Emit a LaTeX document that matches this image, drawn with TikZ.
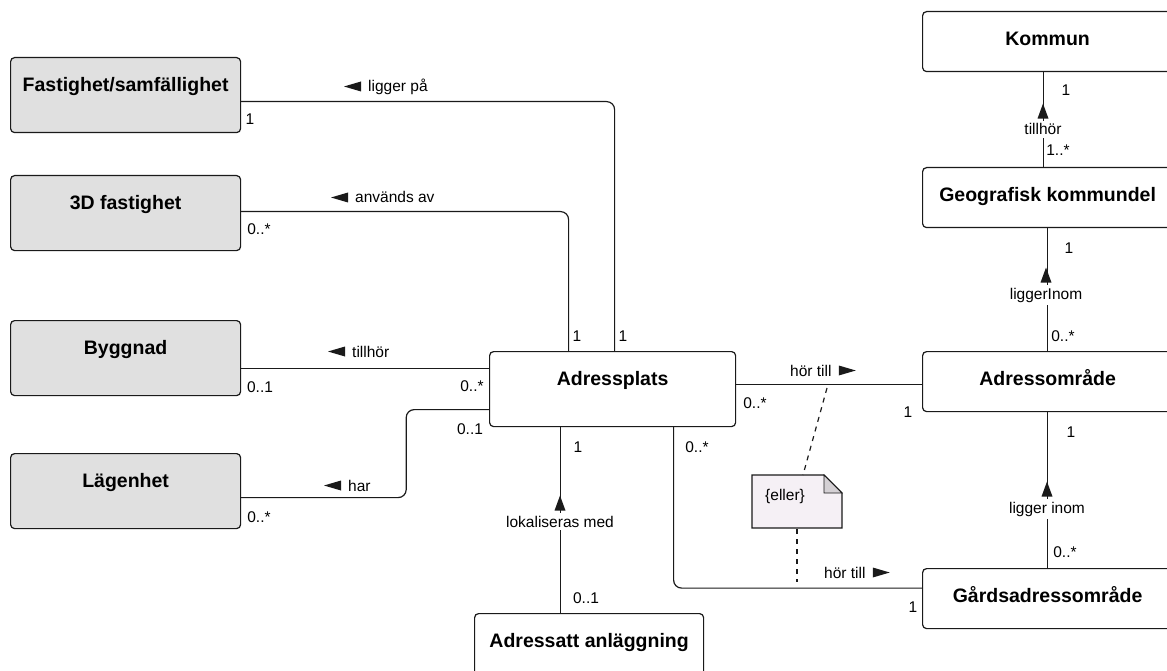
\documentclass[tikz,border=0pt]{standalone}
\usepackage{fontspec}
\setmainfont{Liberation Sans}
\usetikzlibrary{positioning,calc}

\definecolor{linje}{HTML}{1A1A1A}
\definecolor{klassgra}{HTML}{E0E0E0}
\definecolor{notfarg}{HTML}{F5F0F5}
\definecolor{vikfarg}{HTML}{D4D0D4}

\newcommand{\klassfont}{\fontsize{19.5}{23}\selectfont\bfseries}
\newcommand{\smafont}{\fontsize{15.5}{18}\selectfont}

% riktningspilar for associationsnamn
\newcommand{\vanster}[1]{\fill[linje] (#1.base west) ++(-6,-10.5) -- ++(0,10) -- ++(-17,-5) -- cycle;}
\newcommand{\hoger}[1]{\fill[linje] (#1.base east) ++(6,-10.5) -- ++(0,10) -- ++(17,-5) -- cycle;}
\newcommand{\upp}[1]{\fill[linje] (#1.north) ++(-5.5,-2) -- ++(11,0) -- ++(-5.5,-15) -- cycle;}

\tikzset{
  klass/.style={draw=linje, line width=1.2pt, rounded corners=4pt, inner sep=0pt,
    text height=34pt, anchor=north west, font=\klassfont},
  hog/.style={text depth=41pt},
  lagre/.style={text depth=26pt},
  extern/.style={fill=klassgra},
  egen/.style={fill=white},
  assoc/.style={draw=linje, line width=1.2pt, rounded corners=8pt},
  roll/.style={font=\smafont, inner sep=1pt},
  vroll/.style={roll, fill=white, inner ysep=3pt, anchor=base},
  mult/.style={font=\smafont, inner sep=1pt},
  anm/.style={draw=linje, line width=1.2pt, dash pattern=on 5pt off 5pt},
}

\begin{document}
\begin{tikzpicture}[x=1pt,y=-1pt]
    \useasboundingbox (0,0) rectangle (1167,671);

    % klasser till vanster
    \node[klass,hog,extern,minimum width=230pt] (fast) at (10,57) {Fastighet/samfällighet};
    \node[klass,hog,extern,minimum width=230pt] (tred) at (10,175) {3D fastighet};
    \node[klass,hog,extern,minimum width=230pt] (bygg) at (10,320) {Byggnad};
    \node[klass,hog,extern,minimum width=230pt] (lagh) at (10,453) {Lägenhet};

    % mitten
    \node[klass,hog,egen,minimum width=246pt] (adr) at (489,351) {Adressplats};
    \node[klass,hog,egen,minimum width=229pt] (anl) at (474,613) {Adressatt anläggning};

    % klasser till hoger
    \node[klass,lagre,egen,minimum width=250pt] (komm) at (922,11) {Kommun};
    \node[klass,lagre,egen,minimum width=250pt] (geo) at (922,167) {Geografisk kommundel};
    \node[klass,lagre,egen,minimum width=250pt] (aomr) at (922,351) {Adressområde};
    \node[klass,lagre,egen,minimum width=250pt] (gard) at (922,568) {Gårdsadressområde};

    % associationer
    \draw[assoc] ([yshift=-6.5pt]fast.east) -| ([xshift=2pt]adr.north);
    \draw[assoc] ([yshift=1.5pt]tred.east) -| ([xshift=-44pt]adr.north);
    \draw[assoc] ([yshift=-10pt]bygg.east) -- ([yshift=21pt]adr.west);
    \draw[assoc] ([yshift=-6.5pt]lagh.east) -- ++(165,0) |- ([yshift=-20.5pt]adr.west);
    \draw[assoc] ([yshift=4.5pt]adr.east) -- ([yshift=-3pt]aomr.west);
    \draw[assoc] ([xshift=61pt]adr.south) |- ([yshift=10.5pt]gard.west);
    \draw[assoc] ([xshift=-52pt]adr.south) -- ([xshift=-28.5pt]anl.north);
    \draw[assoc] ([xshift=-4pt]komm.south) -- ([xshift=-4pt]geo.north);
    \draw[assoc] (geo.south) -- (aomr.north);
    \draw[assoc] (aomr.south) -- (gard.north);

    % anteckning
    \filldraw[draw=linje,line width=1.2pt,fill=notfarg] (752,475) -- (824,475) -- (842,493) -- (842,528) -- (752,528) -- cycle;
    \filldraw[draw=linje,line width=0.8pt,fill=vikfarg] (824,475) -- (824,493) -- (842,493) -- cycle;
    \node[roll,anchor=base west] (eller) at (764,500) {\{eller\}};
    \coordinate (hortop) at (827,388);
    \coordinate (nottop) at (803,475);
    \coordinate (notbot) at (797,529);
    \coordinate (horbot) at (797,582);
    \draw[anm] (hortop) -- (nottop);
    \draw[anm] (notbot) -- (horbot);

    % associationsnamn
    \node[roll,anchor=base west] (liggpa) at (367,92) {ligger på};
    \vanster{liggpa}
    \node[roll,anchor=base west] (anvand) at (354,203) {används av};
    \vanster{anvand}
    \node[roll,anchor=base west] (tillb) at (351,357) {tillhör};
    \vanster{tillb}
    \node[roll,anchor=base west] (har) at (347,491) {har};
    \vanster{har}
    \node[roll,anchor=base west] (hort) at (789,376) {hör till};
    \hoger{hort}
    \node[roll,anchor=base west] (horg) at (823,578) {hör till};
    \hoger{horg}
    \node[vroll] (tillk) at (1043,135) {tillhör};
    \upp{tillk}
    \node[vroll] (inomg) at (1046,299) {liggerInom};
    \upp{inomg}
    \node[vroll] (inoma) at (1047,513) {ligger inom};
    \upp{inoma}
    \node[vroll] (lokal) at (560,527) {lokaliseras med};
    \upp{lokal}

    % multipliciteter
    \node[mult] (mfast) at (250,119) {1};
    \node[mult] (mtred) at (259,229) {0..*};
    \node[mult] (mbygg) at (260,387) {0..1};
    \node[mult] (madrb) at (472,386) {0..*};
    \node[mult] (madrl) at (470,429) {0..1};
    \node[mult] (mlagh) at (259,517) {0..*};
    \node[mult] (madrt) at (577,336) {1};
    \node[mult] (madrf) at (623,336) {1};
    \node[mult] (madra) at (578,447) {1};
    \node[mult] (madrg) at (697,447) {0..*};
    \node[mult] (madro) at (755,403) {0..*};
    \node[mult] (maomr) at (908,412) {1};
    \node[mult] (mgard) at (913,607) {1};
    \node[mult] (manl) at (586,598) {0..1};
    \node[mult] (mkomm) at (1066,90) {1};
    \node[mult] (mgeok) at (1058,150) {1..*};
    \node[mult] (mgeo) at (1069,248) {1};
    \node[mult] (maomg) at (1063,336) {0..*};
    \node[mult] (maoma) at (1071,432) {1};
    \node[mult] (mgarda) at (1065,552) {0..*};
\end{tikzpicture}
\end{document}
